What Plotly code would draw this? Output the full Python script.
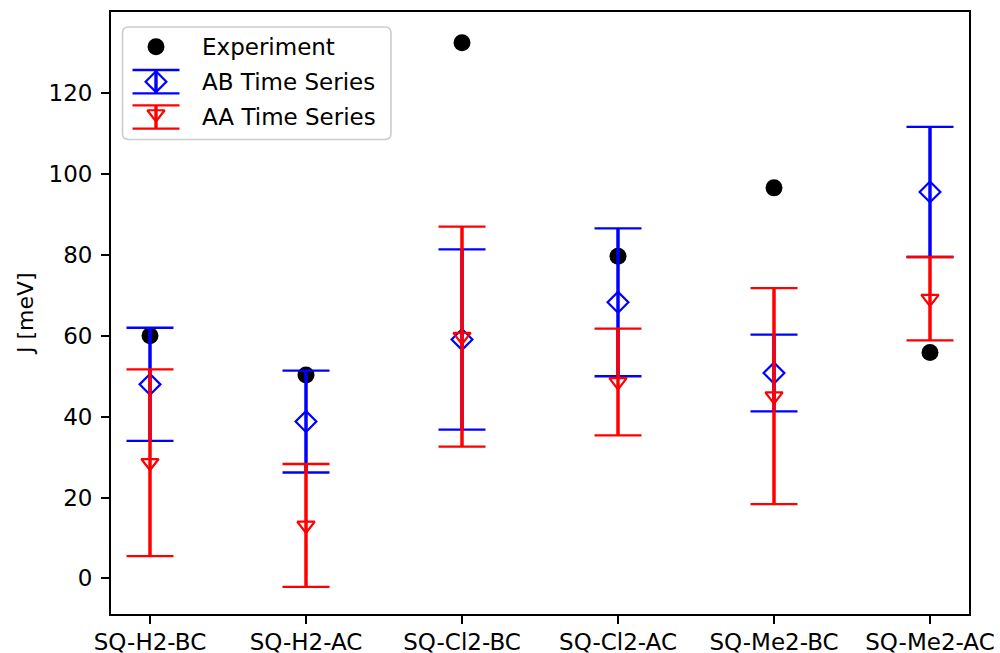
import plotly.graph_objects as go

categories = ["SQ-H2-BC", "SQ-H2-AC", "SQ-Cl2-BC", "SQ-Cl2-AC", "SQ-Me2-BC", "SQ-Me2-AC"]
experiment = [60.0, 50.3, 132.5, 79.7, 96.6, 55.9]
ab_mean = [48.0, 38.8, 59.1, 68.3, 50.8, 95.6]
ab_err = [14.0, 12.6, 22.3, 18.3, 9.5, 16.1]
aa_mean = [28.6, 13.1, 59.8, 48.6, 45.1, 69.2]
aa_err = [23.1, 15.2, 27.2, 13.2, 26.7, 10.3]
series_names = ["Experiment", "AB Time Series", "AA Time Series"]
y_ticks = [0, 20, 40, 60, 80, 100, 120]

FONT = "DejaVu Sans"
FS = 23
BLUE = "#0000ff"
RED = "#ff0000"
CAP_W = 23.5
THICK = 3.4
THIN = 2.3
DOT = 17
DIA = 16
TRI = 15

fig = go.Figure()

fig.add_trace(go.Scatter(x=categories, y=experiment, mode="markers",
                         marker=dict(symbol="circle", size=DOT, color="black"),
                         showlegend=False))


def add_err(mean, err, color, symbol, size):
    fig.add_trace(go.Scatter(x=categories, y=mean, mode="markers",
                             marker=dict(size=1, opacity=0, color=color),
                             error_y=dict(type="data", array=err, visible=True,
                                          color=color, thickness=THICK, width=0),
                             showlegend=False, hoverinfo="skip"))
    fig.add_trace(go.Scatter(x=categories, y=mean, mode="markers",
                             marker=dict(symbol=symbol, size=size, color=color,
                                         line=dict(color=color, width=2.2)),
                             error_y=dict(type="data", array=err, visible=True,
                                          color=color, thickness=THIN, width=CAP_W),
                             showlegend=False))


add_err(ab_mean, ab_err, BLUE, "diamond-open", DIA)
add_err(aa_mean, aa_err, RED, "triangle-down-open", TRI)

# ---- custom legend drawn in a pixel-like overlay coordinate system ----
L, R, T, B = 111, 969, 12, 614
bx0, bx1, by0, by1, rad = 122.5, 391, 27, 139.5, 6
box_path = (f"M {bx0+rad},{by0} L {bx1-rad},{by0} Q {bx1},{by0} {bx1},{by0+rad} "
            f"L {bx1},{by1-rad} Q {bx1},{by1} {bx1-rad},{by1} L {bx0+rad},{by1} "
            f"Q {bx0},{by1} {bx0},{by1-rad} L {bx0},{by0+rad} Q {bx0},{by0} {bx0+rad},{by0} Z")
shapes = [dict(type="path", path=box_path, xref="x2", yref="y2",
               line=dict(color="#cccccc", width=1.6), fillcolor="rgba(255,255,255,0.8)",
               layer="below")]

gx = 156
rows = [46.7, 81.7, 117]
half = 11.7
for cy, color in [(rows[1], BLUE), (rows[2], RED)]:
    shapes.append(dict(type="line", xref="x2", yref="y2", x0=gx, x1=gx,
                       y0=cy - half, y1=cy + half, line=dict(color=color, width=THICK),
                       layer="below"))
    for yy in (cy - half, cy + half):
        shapes.append(dict(type="line", xref="x2", yref="y2", x0=gx - CAP_W, x1=gx + CAP_W,
                           y0=yy, y1=yy, line=dict(color=color, width=THIN), layer="below"))

fig.add_trace(go.Scatter(x=[gx], y=[rows[0]], xaxis="x2", yaxis="y2", mode="markers",
                         marker=dict(symbol="circle", size=DOT, color="black"),
                         showlegend=False, hoverinfo="skip"))
fig.add_trace(go.Scatter(x=[gx], y=[rows[1]], xaxis="x2", yaxis="y2", mode="markers",
                         marker=dict(symbol="diamond-open", size=DIA, color=BLUE,
                                     line=dict(color=BLUE, width=2.2)),
                         showlegend=False, hoverinfo="skip"))
fig.add_trace(go.Scatter(x=[gx], y=[rows[2] - 3], xaxis="x2", yaxis="y2", mode="markers",
                         marker=dict(symbol="triangle-down-open", size=TRI, color=RED,
                                     line=dict(color=RED, width=2.2)),
                         showlegend=False, hoverinfo="skip"))

annotations = []
for name, cy in zip(series_names, rows):
    annotations.append(dict(text=name, x=199.5, y=cy, xref="x2", yref="y2",
                            xanchor="left", yanchor="middle", showarrow=False,
                            font=dict(family=FONT, size=FS, color="black")))

annotations.append(dict(text="J [meV]", x=(25 - L) / (R - L), y=(B - 314) / (B - T),
                        xref="paper", yref="paper", textangle=-90,
                        xanchor="center", yanchor="middle", showarrow=False,
                        font=dict(family=FONT, size=FS - 1, color="black")))

axis_common = dict(showline=True, linecolor="black", linewidth=1.8, mirror=True,
                   ticks="outside", ticklen=8, tickwidth=1.8, tickcolor="black",
                   showgrid=False, zeroline=False,
                   tickfont=dict(family=FONT, size=FS, color="black"))

fig.update_layout(
    width=1000, height=653,
    margin=dict(l=L, r=1000 - R, t=T, b=653 - B, pad=0),
    paper_bgcolor="white", plot_bgcolor="white",
    xaxis=dict(type="category", categoryorder="array", categoryarray=categories,
               range=[-0.25, 5.25], automargin=False, ticklabelstandoff=-2, **axis_common),
    yaxis=dict(range=[-8.8, 140.1], tickvals=y_ticks, automargin=False,
               ticklabelstandoff=4, **axis_common),
    xaxis2=dict(overlaying="x", range=[L, R], visible=False, anchor="y2"),
    yaxis2=dict(overlaying="y", range=[B, T], visible=False, anchor="x2"),
    shapes=shapes, annotations=annotations,
    showlegend=False,
)

fig.write_html("out.html")
